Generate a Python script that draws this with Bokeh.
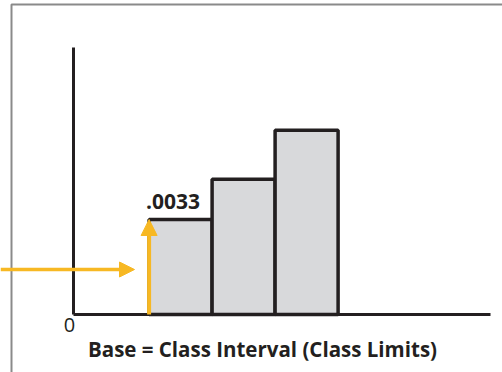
from bokeh.plotting import figure
from bokeh.models import Range1d, Arrow, NormalHead, Label
from bokeh.embed import file_html
from bokeh.resources import INLINE

# ---- data (class limits and relative-frequency heights) ----
class_limits = [12, 22, 32, 42]
heights = [0.0033, 0.0047, 0.0064]
first_label = ".0033"
origin_label = "0"
caption = "Base = Class Interval (Class Limits)"

W, H = 502, 372
# layout: pixel anchors of the origin and scale
ox, oy = 73, 314
sx = 6.3                 # px per class unit
sy = 95 / heights[0]     # px per frequency unit

def xr(px):
    return (px - ox) / sx

def yr(py):
    return (oy - py) / sy

p = figure(width=W, height=H, output_backend="svg", toolbar_location=None,
           x_range=Range1d(xr(0), xr(W)), y_range=Range1d(yr(H), yr(0)),
           x_axis_location=None, y_axis_location=None, min_border=0,
           outline_line_color=None, background_fill_color="white",
           border_fill_color="white")
p.grid.visible = False

ink = "#231f20"
orange = "#f7b823"

# frame border of the picture
p.line([xr(11), xr(11), xr(W + 20)], [yr(H + 20), yr(4), yr(4)],
       line_color="#8a8a8a", line_width=2)

# bars
p.quad(left=class_limits[:-1], right=class_limits[1:], bottom=0, top=heights,
       fill_color="#d8d9db", line_color=ink, line_width=3.5)

# axes
p.line([0, 0], [0, yr(47)], line_color=ink, line_width=3)
p.line([0, xr(490)], [0, 0], line_color=ink, line_width=3)

# arrows
p.add_layout(Arrow(end=NormalHead(size=15, fill_color=orange, line_color=orange),
                   x_start=xr(0), y_start=yr(269), x_end=xr(134), y_end=yr(269),
                   line_color=orange, line_width=3.5))
p.add_layout(Arrow(end=NormalHead(size=16, fill_color=orange, line_color=orange),
                   x_start=class_limits[0], y_start=0,
                   x_end=class_limits[0], y_end=heights[0],
                   line_color=orange, line_width=4))

# texts
p.add_layout(Label(x=class_limits[0], y=heights[0], text=first_label,
                   x_offset=-3, y_offset=11, text_font="Open Sans",
                   text_font_style="bold", text_font_size="21px",
                   text_color=ink, text_baseline="bottom", text_align="left"))
p.add_layout(Label(x=0, y=0, text=origin_label, x_offset=-4, y_offset=-3,
                   text_font="Open Sans", text_font_size="20px",
                   text_color=ink, text_baseline="top", text_align="center"))
p.add_layout(Label(x=xr(262), y=yr(348), text=caption,
                   text_font="Open Sans", text_font_style="bold",
                   text_font_size="20.5px", text_color=ink,
                   text_baseline="middle", text_align="center"))

open("out.html", "w").write(file_html(p, INLINE))
